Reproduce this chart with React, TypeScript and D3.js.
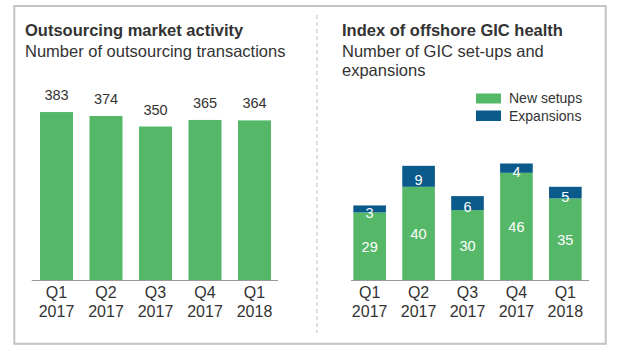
import React from "react";
import * as d3 from "d3";

const quarters = ["Q1", "Q2", "Q3", "Q4", "Q1"];
const years = ["2017", "2017", "2017", "2017", "2018"];
const transactions = [383, 374, 350, 365, 364];
const newSetups = [29, 40, 30, 46, 35];
const expansions = [3, 9, 6, 4, 5];

const GREEN = "#55b868";
const BLUE = "#0b5a8c";
const TEXT = "#333333";
const FONT = "'Liberation Sans', Arial, sans-serif";

export default function App() {
  const keys = quarters.map((q, i) => `${q} ${years[i]}`);
  const baseY = 280;

  const xL = d3.scaleBand<string>().domain(keys).range([33, 278]).paddingInner(0.333).paddingOuter(0.141);
  const yL = d3.scaleLinear().domain([0, 400]).range([baseY, 104.6]);

  const xR = d3.scaleBand<string>().domain(keys).range([346, 589]).paddingInner(0.333).paddingOuter(0.15);
  const yR = d3.scaleLinear().domain([0, 50]).range([baseY, 163.5]);

  const stackData = keys.map((k, i) => ({ key: k, newSetups: newSetups[i], expansions: expansions[i] }));
  const stacked = d3.stack<any>().keys(["newSetups", "expansions"])(stackData);

  const axisLabels = (x: d3.ScaleBand<string>) =>
    keys.map((k, i) => {
      const cx = (x(k) ?? 0) + x.bandwidth() / 2;
      return (
        <g key={"lab" + i}>
          <text x={cx} y={298} textAnchor="middle" fontSize={16} fill={TEXT}>{quarters[i]}</text>
          <text x={cx} y={317} textAnchor="middle" fontSize={16} fill={TEXT}>{years[i]}</text>
        </g>
      );
    });

  return (
    <svg width={624} height={356} style={{ position: "absolute", left: 0, top: 0, background: "#fff" }} fontFamily={FONT}>
      <rect x={0} y={0} width={624} height={356} fill="#fff" />
      <rect x={14.3} y={6} width={591.4} height={337.8} fill="none" stroke="#c4c4c4" strokeWidth={2} />
      <line x1={317} x2={317} y1={15} y2={333} stroke="#bdbdbd" strokeWidth={1} strokeDasharray="4,3" />

      {/* Left panel */}
      <text x={25} y={36} fontSize={16.5} fontWeight="bold" fill={TEXT}>Outsourcing market activity</text>
      <text x={25} y={57} fontSize={16.5} fill={TEXT}>Number of outsourcing transactions</text>
      {keys.map((k, i) => (
        <g key={"l" + i}>
          <rect x={xL(k)} y={yL(transactions[i])} width={xL.bandwidth()} height={baseY - yL(transactions[i])} fill={GREEN} />
          <text x={(xL(k) ?? 0) + xL.bandwidth() / 2} y={yL(transactions[i]) - 12} textAnchor="middle" fontSize={14.5} fill={TEXT}>
            {transactions[i]}
          </text>
        </g>
      ))}
      <line x1={31.7} x2={278} y1={baseY + 0.5} y2={baseY + 0.5} stroke="#9a9a9a" strokeWidth={1} />
      {axisLabels(xL)}

      {/* Right panel */}
      <text x={342} y={36} fontSize={16.5} fontWeight="bold" fill={TEXT}>Index of offshore GIC health</text>
      <text x={342} y={57} fontSize={16.5} fill={TEXT}>Number of GIC set-ups and</text>
      <text x={342} y={76} fontSize={16.5} fill={TEXT}>expansions</text>

      <rect x={476} y={93.5} width={25} height={10} fill={GREEN} />
      <text x={509} y={103.3} fontSize={14} fill={TEXT}>New setups</text>
      <rect x={476} y={110.5} width={25} height={10.5} fill={BLUE} />
      <text x={509} y={120.7} fontSize={14} fill={TEXT}>Expansions</text>

      {stacked.map((layer, li) =>
        layer.map((d, i) => {
          const k = keys[i];
          const y0 = yR(d[0]);
          const y1 = yR(d[1]);
          const cx = (xR(k) ?? 0) + xR.bandwidth() / 2;
          const mid = (y0 + y1) / 2;
          const val = d[1] - d[0];
          return (
            <g key={"r" + li + "-" + i}>
              <rect x={xR(k)} y={y1} width={xR.bandwidth()} height={y0 - y1} fill={li === 0 ? GREEN : BLUE} />
              <text x={cx} y={li === 0 ? mid + 5.5 : mid + 9} textAnchor="middle" fontSize={14.5} fill="#ffffff">
                {val}
              </text>
            </g>
          );
        })
      )}
      <line x1={351} x2={589} y1={baseY + 0.5} y2={baseY + 0.5} stroke="#9a9a9a" strokeWidth={1} />
      {axisLabels(xR)}
    </svg>
  );
}
